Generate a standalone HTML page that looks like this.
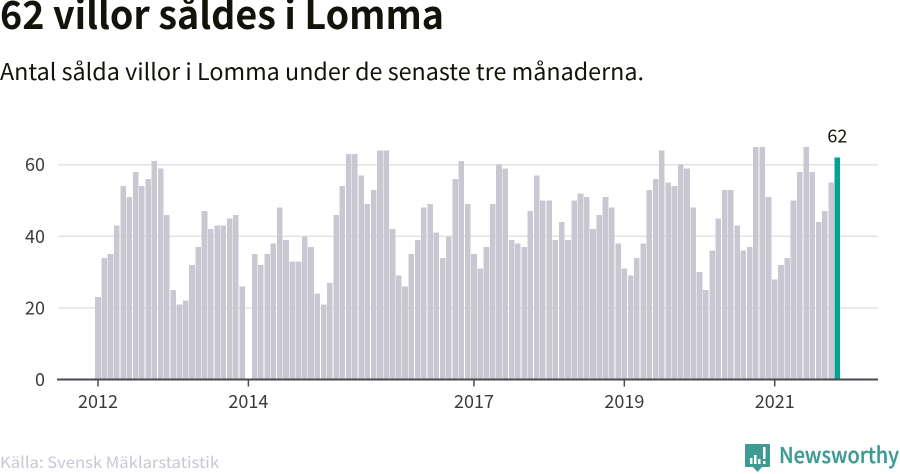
<!DOCTYPE html>
<html lang="sv">
<head>
<meta charset="utf-8">
<title>62 villor såldes i Lomma</title>
<style>
html,body{margin:0;padding:0;background:#fff;width:900px;height:474px;overflow:hidden}
svg{display:block}
text{font-family:"Noto Sans CJK SC","Liberation Sans",sans-serif}
</style>
</head>
<body>
<svg id="chart" xmlns="http://www.w3.org/2000/svg" width="900" height="474" viewBox="0 0 900 474">
  <text x="0" y="29" font-size="39" font-weight="700" fill="#13130b" textLength="444" lengthAdjust="spacingAndGlyphs">62 villor såldes i Lomma</text>
  <text x="0" y="80" font-size="23" fill="#13130b" textLength="644" lengthAdjust="spacingAndGlyphs">Antal sålda villor i Lomma under de senaste tre månaderna.</text>
  <g id="grid"></g>
  <g id="bars"></g>
  <g id="axis"></g>
  <g id="yaxis"></g>
  <text x="0" y="468" font-size="15.5" fill="#c8c7d2" textLength="219" lengthAdjust="spacingAndGlyphs">Källa: Svensk Mäklarstatistik</text>
  <g>
    <path d="M746 444h23a1 1 0 0 1 1 1v21a1 1 0 0 1-1 1h-7l-4.500 5-4.500-5h-7a1 1 0 0 1-1-1v-21a1 1 0 0 1 1-1z" fill="#3f9a93"/>
    <rect x="750" y="458" width="2.500" height="6" fill="#fff"/>
    <rect x="754" y="455" width="2.500" height="9" fill="#fff"/>
    <rect x="758" y="459" width="2.500" height="5" fill="#fff"/>
    <rect x="763" y="447" width="2.500" height="12" fill="#fff"/>
    <rect x="763" y="461" width="2.500" height="3" fill="#fff"/>
    <text x="779" y="463" font-size="22" font-weight="500" fill="#3f9a93" stroke="#3f9a93" stroke-width="0.3" textLength="120" lengthAdjust="spacingAndGlyphs">Newsworthy</text>
  </g>
</svg>
<script>
const values = [23,34,35,43,54,51,58,54,56,61,59,46,25,21,22,32,37,47,42,43,43,45,46,26,null,
35,32,35,38,48,39,33,33,40,37,24,21,27,46,54,63,63,57,49,53,64,64,42,29,26,35,39,48,49,41,34,40,56,61,49,
35,31,37,49,60,59,39,38,37,47,57,50,50,39,44,39,50,52,51,42,46,51,48,38,31,29,34,38,53,56,64,55,54,60,59,48,
30,25,36,45,53,53,43,36,37,65,65,51,28,32,34,50,58,65,58,44,47,55,62];
const tickIndexes = [0,24,60,84,108];
const tickLabels = ["2012","2014","2017","2019","2021"];
const yTicks = [20,40,60];
const yLabels = ["0","20","40","60"];

const NS = "http://www.w3.org/2000/svg";
const xScale = function (i) { return 98 + i * 6.266; };
const yScale = function (v) { return 379.5 - v * 3.58; };
function mk(parent, tag, attrs, txt) {
  const el = document.createElementNS(NS, tag);
  for (const k in attrs) el.setAttribute(k, attrs[k]);
  if (txt !== undefined) el.textContent = txt;
  parent.appendChild(el);
  return el;
}
const grid = document.getElementById("grid");
const bars = document.getElementById("bars");
const axis = document.getElementById("axis");
const yaxis = document.getElementById("yaxis");

yTicks.forEach(function (t) {
  const l = mk(grid, "line", {x1: 58, x2: 878, y1: yScale(t), y2: yScale(t), stroke: "#e3e3e3", "stroke-width": 1.5});
  
  
});
values.forEach(function (v, i) {
  if (v === null) return;
  const last = i === values.length - 1;
  const r = mk(bars, "rect", {
    x: xScale(i) - 2.8, y: yScale(v), width: 5.6, height: yScale(0) - yScale(v),
    fill: last ? "#05a195" : "#c8c7d2", "shape-rendering": "crispEdges"
  });
  
  
  if (last) {
    const t = mk(bars, "text", {x: xScale(i), y: yScale(v) - 15, "text-anchor": "middle", "font-size": 18, fill: "#13130b"}, String(v));
    
    
  }
});
const base = mk(axis, "line", {x1: 57, x2: 878, y1: yScale(0), y2: yScale(0), stroke: "#4a4a50", "stroke-width": 2});


tickIndexes.forEach(function (idx, n) {
  const tk = mk(axis, "line", {x1: xScale(idx), x2: xScale(idx), y1: yScale(0), y2: yScale(0) + 7, stroke: "#4a4a50", "stroke-width": 1.5});
  
  
  const t = mk(axis, "text", {x: xScale(idx), y: 408, "text-anchor": "middle", "font-size": 18, fill: "#3a3a3a"}, tickLabels[n]);
  
  
});
yLabels.forEach(function (s) {
  const t = mk(yaxis, "text", {x: 45, y: yScale(Number(s)) + 6.5, "text-anchor": "end", "font-size": 18, fill: "#3a3a3a"}, s);
  
  
});
</script>
</body>
</html>
